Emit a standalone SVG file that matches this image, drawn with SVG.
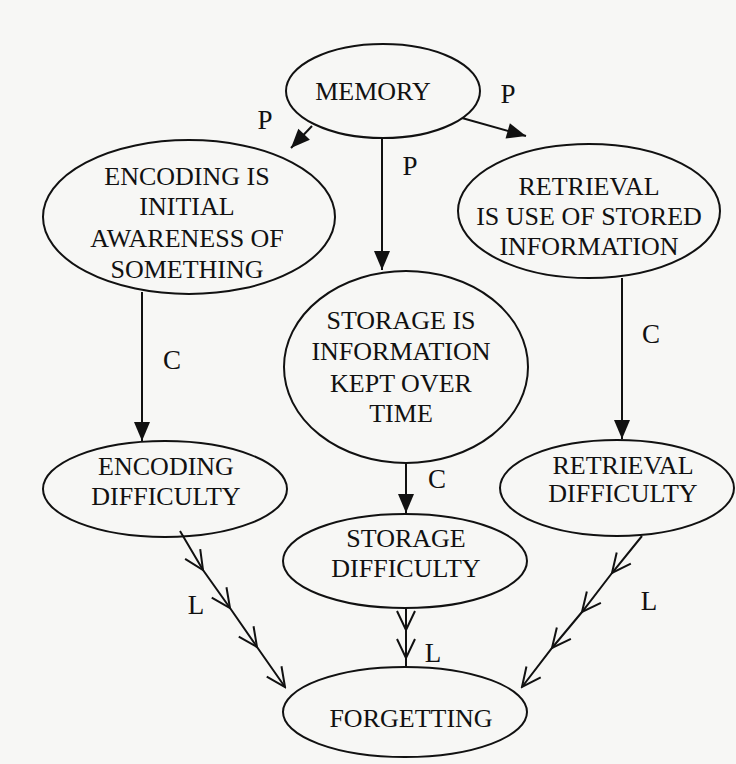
<svg xmlns="http://www.w3.org/2000/svg" width="736" height="764" viewBox="0 0 736 764">
<style>
.n{fill:none;stroke:#111;stroke-width:2}
.t{font-family:"Liberation Serif","Times New Roman",serif;font-size:26px;fill:#111;text-anchor:middle}
.l{font-family:"Liberation Serif","Times New Roman",serif;font-size:27px;fill:#111;text-anchor:middle}
.e{fill:none;stroke:#111;stroke-width:2}
</style>
<defs>
<marker id="ah" markerUnits="userSpaceOnUse" markerWidth="24" markerHeight="20" viewBox="-20 -10 22 20" refX="0" refY="0" orient="auto">
<path d="M-19,-8 L0,0 L-19,8 Z" fill="#111"/>
</marker>
<marker id="ch" markerUnits="userSpaceOnUse" markerWidth="24" markerHeight="24" viewBox="-22 -12 24 24" refX="0" refY="0" orient="auto">
<path d="M-19,-9 L0,0 L-19,9" fill="none" stroke="#111" stroke-width="2"/>
</marker>
</defs>
<rect width="736" height="764" fill="#f7f7f5"/>
<g id="connectors">
<line class="e" x1="312" y1="126" x2="291" y2="148" marker-end="url(#ah)"/>
<line class="e" x1="462" y1="118" x2="526" y2="136" marker-end="url(#ah)"/>
<line class="e" x1="382" y1="139" x2="382" y2="270" marker-end="url(#ah)"/>
<line class="e" x1="142" y1="292" x2="142" y2="441" marker-end="url(#ah)"/>
<line class="e" x1="622" y1="278" x2="622" y2="439" marker-end="url(#ah)"/>
<line class="e" x1="406" y1="463" x2="406" y2="513" marker-end="url(#ah)"/>
<polyline class="e" points="180,531 203,570 230,608 257,647 285,687" marker-mid="url(#ch)" marker-end="url(#ch)"/>
<polyline class="e" points="406,608 406,630 406,658 406,667" marker-mid="url(#ch)"/>
<polyline class="e" points="642,536 612,573 582,612 552,648 522,687" marker-mid="url(#ch)" marker-end="url(#ch)"/>
<text class="l" x="265" y="129">P</text>
<text class="l" x="508" y="103">P</text>
<text class="l" x="410" y="175">P</text>
<text class="l" x="172" y="369">C</text>
<text class="l" x="651" y="343">C</text>
<text class="l" x="437" y="488">C</text>
<text class="l" x="196" y="614">L</text>
<text class="l" x="433" y="662">L</text>
<text class="l" x="649" y="610">L</text>
</g>
<g id="memory">
<ellipse class="n" cx="383" cy="91" rx="97" ry="47"/>
<text class="t" x="373" y="100">MEMORY</text>
</g>
<g id="encoding">
<ellipse class="n" cx="189" cy="217" rx="146" ry="77"/>
<text class="t" x="187" y="185">ENCODING IS</text>
<text class="t" x="187" y="215">INITIAL</text>
<text class="t" x="187" y="247">AWARENESS OF</text>
<text class="t" x="187" y="278">SOMETHING</text>
</g>
<g id="retrieval">
<ellipse class="n" cx="589" cy="211" rx="131" ry="67"/>
<text class="t" x="589" y="195">RETRIEVAL</text>
<text class="t" x="589" y="225">IS USE OF STORED</text>
<text class="t" x="589" y="255">INFORMATION</text>
</g>
<g id="storage">
<ellipse class="n" cx="406" cy="367" rx="122" ry="96"/>
<text class="t" x="401" y="329">STORAGE IS</text>
<text class="t" x="401" y="360">INFORMATION</text>
<text class="t" x="401" y="392">KEPT OVER</text>
<text class="t" x="401" y="422">TIME</text>
</g>
<g id="encoding-difficulty">
<ellipse class="n" cx="165" cy="489" rx="122" ry="48"/>
<text class="t" x="166" y="475">ENCODING</text>
<text class="t" x="166" y="505">DIFFICULTY</text>
</g>
<g id="retrieval-difficulty">
<ellipse class="n" cx="617" cy="488" rx="117" ry="48"/>
<text class="t" x="623" y="474">RETRIEVAL</text>
<text class="t" x="623" y="502">DIFFICULTY</text>
</g>
<g id="storage-difficulty">
<ellipse class="n" cx="405" cy="561" rx="122" ry="47"/>
<text class="t" x="406" y="547">STORAGE</text>
<text class="t" x="406" y="577">DIFFICULTY</text>
</g>
<g id="forgetting">
<ellipse class="n" cx="405" cy="712" rx="122" ry="45"/>
<text class="t" x="411" y="727">FORGETTING</text>
</g>
</svg>
